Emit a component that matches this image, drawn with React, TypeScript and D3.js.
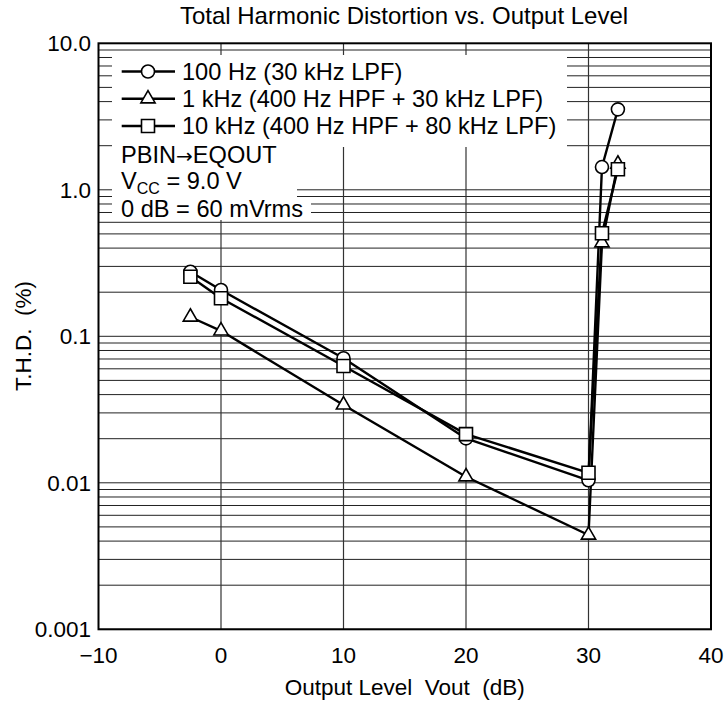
import * as d3 from "d3";

// chart size and plot margins
const width = 727;
const height = 702;
const marginTop = 43.3;
const marginRight = 16;
const marginBottom = 72.7;
const marginLeft = 98.5;

const font = "'Liberation Sans', Arial, Helvetica, sans-serif";

// data
const levels = [-2.5, 0, 10, 20, 30, 31.1, 32.4];
const thd100Hz = [0.276, 0.207, 0.0708, 0.0201, 0.0104, 1.43, 3.54];
const thd1kHz = [0.1355, 0.109, 0.034, 0.011, 0.0044, 0.435, 1.5];
const thd10kHz = [0.255, 0.182, 0.0627, 0.0215, 0.0117, 0.505, 1.38];

const seriesNames = [
  "100 Hz (30 kHz LPF)",
  "1 kHz (400 Hz HPF + 30 kHz LPF)",
  "10 kHz (400 Hz HPF + 80 kHz LPF)",
];
const seriesShapes = ["circle", "triangle", "square"];

const xTicks = [-10, 0, 10, 20, 30, 40];
const xTickLabels = ["\u221210", "0", "10", "20", "30", "40"];
const yTicks = [0.001, 0.01, 0.1, 1, 10];
const yTickLabels = ["0.001", "0.01", "0.1", "1.0", "10.0"];

const App = () => {
  const x = d3
    .scaleLinear()
    .domain([-10, 40])
    .range([marginLeft, width - marginRight]);

  const y = d3
    .scaleLog()
    .domain([0.001, 10])
    .range([height - marginBottom, marginTop]);

  // minor + major horizontal grid values
  const hGrid: number[] = [];
  [0.001, 0.01, 0.1, 1].forEach((d) => {
    for (let k = 1; k <= 9; k++) hGrid.push(d * k);
  });

  const series = [thd100Hz, thd1kHz, thd10kHz];

  const line = d3
    .line<number>()
    .x((_, i) => x(levels[i]))
    .y((d) => y(d));

  const symbolFor = (shape: string) => {
    if (shape === "circle") return d3.symbol(d3.symbolCircle, 133)();
    if (shape === "square") return d3.symbol(d3.symbolSquare, 169)();
    return d3.symbol(d3.symbolTriangle, 88)();
  };

  const x0 = x(-10);
  const x1 = x(40);
  const legendRows = [79.5, 106.8, 134];

  return (
    <svg
      width={width}
      height={height}
      style={{ position: "absolute", left: 0, top: 0, background: "#fff" }}
      fontFamily={font}
    >
      {/* title */}
      <text x={404} y={24} textAnchor="middle" fontSize={24}>
        Total Harmonic Distortion vs. Output Level
      </text>

      {/* horizontal grid */}
      {hGrid.map((v) => (
        <line
          key={"h" + v}
          x1={x0}
          x2={x1}
          y1={y(v)}
          y2={y(v)}
          stroke="#222"
          strokeWidth={1}
        />
      ))}
      {/* vertical grid */}
      {xTicks.slice(1, -1).map((v) => (
        <line
          key={"v" + v}
          x1={x(v)}
          x2={x(v)}
          y1={y(10)}
          y2={y(0.001)}
          stroke="#333"
          strokeWidth={1.2}
        />
      ))}

      {/* legend background */}
      <rect x={112} y={55} width={455} height={92} fill="#fff" />
      <rect x={112} y={146} width={185} height={54} fill="#fff" />
      <rect x={112} y={199} width={199} height={21} fill="#fff" />

      {/* frame */}
      <rect
        x={x0}
        y={y(10)}
        width={x1 - x0}
        height={y(0.001) - y(10)}
        fill="none"
        stroke="#000"
        strokeWidth={2}
      />

      {/* series lines */}
      {series.map((s, i) => (
        <path
          key={"l" + i}
          d={line(s) || ""}
          fill="none"
          stroke="#000"
          strokeWidth={2.4}
          strokeLinejoin="round"
        />
      ))}
      {/* markers: circles, then triangles, then squares on top */}
      {series.map((s, i) =>
        s.map((v, j) => (
          <path
            key={"m" + i + "-" + j}
            d={symbolFor(seriesShapes[i]) || ""}
            transform={`translate(${x(levels[j])},${y(v)})`}
            fill="#fff"
            stroke="#000"
            strokeWidth={1.6}
          />
        ))
      )}

      {/* legend */}
      {seriesNames.map((name, i) => (
        <g key={"lg" + i}>
          <line
            x1={121.7}
            x2={175}
            y1={legendRows[i] - 8}
            y2={legendRows[i] - 8}
            stroke="#000"
            strokeWidth={2.4}
          />
          <path
            d={symbolFor(seriesShapes[i]) || ""}
            transform={`translate(148,${legendRows[i] - 8})`}
            fill="#fff"
            stroke="#000"
            strokeWidth={1.6}
          />
          <text x={182} y={legendRows[i]} fontSize={23.6}>
            {name}
          </text>
        </g>
      ))}
      <text x={121} y={163.3} fontSize={23.6}>
        <tspan>PBIN</tspan>
        <tspan fontFamily="'DejaVu Sans', sans-serif" fontSize={20}>
          {"\u2192"}
        </tspan>
        <tspan>EQOUT</tspan>
      </text>
      <text x={121} y={188.5} fontSize={23.6}>
        <tspan>V</tspan>
        <tspan dy={5} fontSize={16}>
          CC
        </tspan>
        <tspan dy={-5}> = 9.0 V</tspan>
      </text>
      <text x={121} y={216.7} fontSize={23.6}>
        0 dB = 60 mVrms
      </text>

      {/* y tick labels */}
      {yTicks.map((v, i) => (
        <text
          key={"yt" + v}
          x={91}
          y={y(v) + 8}
          textAnchor="end"
          fontSize={22.5}
        >
          {yTickLabels[i]}
        </text>
      ))}
      {/* x tick labels */}
      {xTicks.map((v, i) => (
        <text
          key={"xt" + v}
          x={x(v)}
          y={663}
          textAnchor="middle"
          fontSize={22.5}
        >
          {xTickLabels[i]}
        </text>
      ))}

      {/* axis titles */}
      <text
        x={x(15)}
        y={695}
        textAnchor="middle"
        fontSize={22.5}
        style={{ whiteSpace: "pre" }}
      >
        {"Output Level  Vout  (dB)"}
      </text>
      <text
        transform="translate(31,336) rotate(-90)"
        textAnchor="middle"
        fontSize={22.5}
        style={{ whiteSpace: "pre" }}
      >
        {"T.H.D.  (%)"}
      </text>
    </svg>
  );
};

export default App;
